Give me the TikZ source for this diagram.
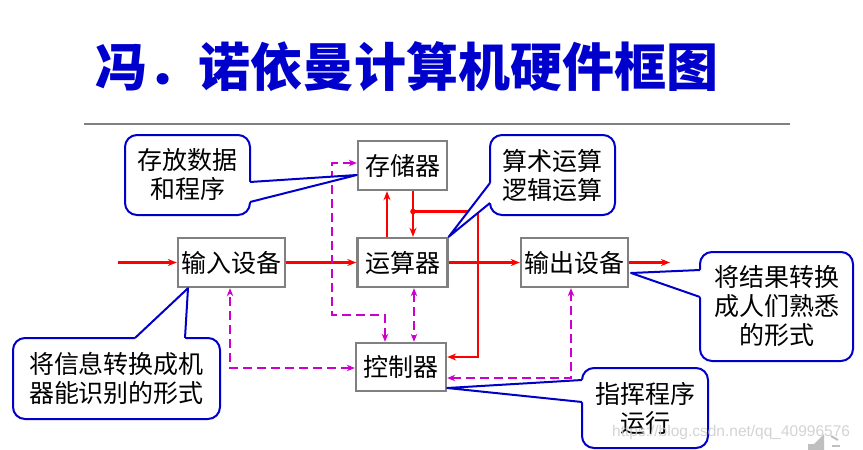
\documentclass[tikz,border=0pt]{standalone}
\usepackage{fontspec}
\setmainfont{Liberation Sans}
\newfontfamily\cjk{Noto Sans CJK SC}
\usetikzlibrary{arrows.meta}
\definecolor{boxgray}{RGB}{128,128,128}
\definecolor{callblue}{RGB}{0,0,200}
\definecolor{titleblue}{RGB}{0,0,204}
\definecolor{ctlmag}{RGB}{204,0,204}
\definecolor{linered}{RGB}{255,0,0}
\begin{document}
\begin{tikzpicture}[x=1pt,y=-1pt,
  box/.style={draw=boxgray, line width=2.4pt, fill=white, inner sep=0pt, font=\cjk\fontsize{25}{25}\selectfont},
  callout/.style={draw=callblue, line width=2pt, fill=white, rounded corners=12pt, inner sep=0pt, align=center, font=\cjk\fontsize{25}{29}\selectfont},
  ptr/.style={draw=callblue, line width=2pt, line join=round},
  redline/.style={draw=linered, line width=2.8pt},
  redarrow/.style={redline, -{Stealth[length=9pt,width=7pt]}},
  ctl/.style={draw=ctlmag, line width=2.4pt, dash pattern=on 9pt off 5pt, {Stealth[length=8pt,width=6.5pt]}-{Stealth[length=8pt,width=6.5pt]}},
]
\useasboundingbox (0,0) rectangle (863,450);
\fill[white] (0,0) rectangle (863,450);

% title
\node[font=\cjk\bfseries\fontsize{52}{52}\selectfont, text=titleblue, inner sep=0pt] (title) at (407,67) {冯．诺依曼计算机硬件框图};
\coordinate (rl) at (84,124);
\coordinate (rr) at (790,124);
\draw[boxgray, line width=1.6pt] (rl) -- (rr);

% boxes
\node[box, minimum width=89pt, minimum height=49pt] (mem) at (402.5,165.5) {存储器};
\node[box, minimum width=90pt, minimum height=49pt] (alu) at (402.5,262.5) {运算器};
\node[box, minimum width=107pt, minimum height=49pt] (in) at (231.5,262.5) {输入设备};
\node[box, minimum width=107pt, minimum height=49pt] (out) at (574.5,262.5) {输出设备};
\node[box, minimum width=90pt, minimum height=48pt] (ctrl) at (401,367) {控制器};

% red data flow
\coordinate (src) at (118,262.5);
\coordinate (sink) at (670,262.5);
\draw[redarrow] (src) -- (in.west);
\draw[redarrow] (in.east) -- (alu.west);
\draw[redarrow] (alu.east) -- (out.west);
\draw[redarrow] (out.east) -- (sink);
\draw[redarrow] (387,0 |- alu.north) -- (387,0 |- mem.south);
\draw[redarrow] (413,0 |- mem.south) -- (413,0 |- alu.north);
\coordinate (j) at (413,211.5);
\draw[redarrow] (j) -- (478,211.5) -- (478,357) -- (ctrl.east |- 0,357);
\fill[linered] (j) circle (2.8pt);

% control flow
\draw[ctl] (385,0 |- ctrl.north) -- (385,315) -- (332,315) -- (332,163) -- (mem.west |- 0,163);
\draw[ctl] (414,0 |- alu.south) -- (414,0 |- ctrl.north);
\draw[ctl] (ctrl.west |- 0,368) -- (230,368) -- (230,0 |- in.south);
\draw[ctl] (ctrl.east |- 0,378) -- (571,378) -- (571,0 |- out.south);

% callouts
\node[callout, minimum width=125pt, minimum height=80pt] (c1) at (187.5,175) {存放数据\\和程序};
\fill[white] (246,181) -- (250,182) -- (mem.west |- 0,175) -- (250,202) -- (246,203) -- cycle;
\draw[ptr] (250,182) -- (mem.west |- 0,175) -- (250,202);

\node[callout, minimum width=125pt, minimum height=80pt] (c2) at (552.5,175) {算术运算\\逻辑运算};
\fill[white] (494,182) -- (490,183) -- (alu.north east) -- (490,203) -- (494,204) -- cycle;
\draw[ptr] (490,183) -- (alu.north east) -- (490,203);

\node[callout, minimum width=153pt, minimum height=109pt] (c3) at (776.5,306.5) {将结果转换\\成人们熟悉\\的形式};
\fill[white] (704,269) -- (700,270) -- (631,273) -- (700,297) -- (704,298) -- cycle;
\draw[ptr] (700,270) -- (631,273) -- (700,297);

\node[callout, minimum width=207pt, minimum height=81pt] (c4) at (116.5,378.5) {将信息转换成机\\器能识别的形式};
\fill[white] (134,342) -- (135,338) -- (188,0 |- in.south) -- (185,338) -- (186,342) -- cycle;
\draw[ptr] (135,338) -- (188,0 |- in.south) -- (185,338);

\node[callout, minimum width=126pt, minimum height=80pt] (c5) at (645,408) {指挥程序\\运行};
\fill[white] (586,379) -- (582,380) -- (ctrl.east |- 0,388) -- (582,402) -- (586,403) -- cycle;
\draw[ptr] (582,380) -- (ctrl.east |- 0,388) -- (582,402);

% watermark
\node[font=\fontsize{15.5}{16}\selectfont, text=black!20, anchor=west, inner sep=0pt, opacity=0.85] (wm) at (612,432) {https://blog.csdn.net/qq\_40996576};
\fill[black!25] (808,444) -- (814,444) -- (824,434) -- (824,450) -- (808,450) -- cycle;
\draw[black!25, line width=2pt] (831,436) -- (838,440);
\draw[black!25, line width=2pt] (832,446) -- (840,446);
\end{tikzpicture}
\end{document}
